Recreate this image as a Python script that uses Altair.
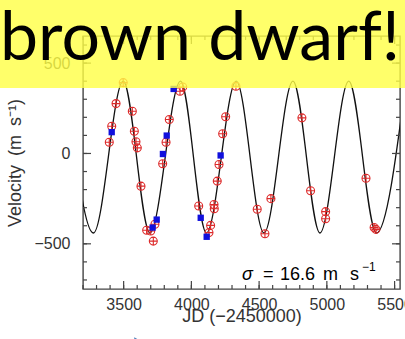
import altair as alt
import pandas as pd

# Radial-velocity measurements, JD - 2450000 (days) and velocity (m/s)
red_jd = [3497, 3444, 3412, 3394, 3564, 3579, 3591, 3601, 3628, 3670, 3700, 3731,
          3719, 3916, 3936, 3837, 3813, 3788, 4054, 4167, 4169, 4142, 4130, 4329,
          4253, 4231, 4204, 4191, 4486, 4543, 4587, 4816, 4880, 4991, 4991, 5289,
          5349, 5362]
red_rv = [392, 276, 151, 62, 234, 123, 65, 31, -181, -425, -429, -392,
          -485, 344, 368, 188, 62, -57, -291, -282, -306, -398, -438, 372,
          203, 109, -61, -153, -309, -444, -250, 197, -206, -322, -361, -137,
          -410, -420]

blue_jd = [3412, 3869, 3818, 3790, 3714, 3744, 4069, 4113, 4216]
blue_rv = [118, 357, 99, -3, -410, -366, -356, -461, -11]

# Turning points of the fitted orbit
fit_jd = [3077, 3277, 3497, 3694, 3920, 4111, 4331, 4536, 4750, 4949, 5162, 5366, 5584]
fit_rv = [400, -440, 400, -440, 400, -440, 400, -440, 400, -440, 400, -440, 400]

# Axis ticks
x_minor = list(range(3200, 5501, 100))
x_major = [3500, 4000, 4500, 5000, 5500]
y_minor = list(range(-700, 601, 100))
y_major = [-500, 0, 500]

W, H = 317, 253
FONT = "Liberation Sans"
INK = "#333333"
SP = "\u2002"

xs = alt.Scale(domain=[3200, 5540], nice=False, zero=False)
ys = alt.Scale(domain=[-750, 650], nice=False, zero=False)

AX = alt.Axis(values=x_major, format="d", ticks=False, tickSize=0, domain=False,
              grid=False, labelFont=FONT, labelFontSize=16, labelColor=INK,
              labelPadding=7, title="JD (\u22122450000)", titleFont=FONT,
              titleFontSize=18, titleFontWeight="normal", titleColor=INK,
              titleY=32, titleBaseline="alphabetic")
AY = alt.Axis(values=y_major, format="d", ticks=False, tickSize=0, domain=False,
              grid=False, labelFont=FONT, labelFontSize=16, labelColor=INK,
              labelPadding=13, title=f"Velocity{SP}(m{SP}s\u207b\u00b9)",
              titleFont=FONT, titleFontSize=18, titleFontWeight="normal",
              titleColor=INK, titleX=-68, titleY=H / 2, titleBaseline="middle",
              titleAlign="center", titleAngle=270)


def X():
    return alt.X("x:Q", scale=xs, axis=AX)


def Y():
    return alt.Y("y:Q", scale=ys, axis=AY)


fit = pd.DataFrame({"x": fit_jd, "y": fit_rv})
red = pd.DataFrame({"x": red_jd, "y": red_rv})
blue = pd.DataFrame({"x": blue_jd, "y": blue_rv})
one = pd.DataFrame({"k": [0]})

curve = alt.Chart(fit).mark_line(
    color="#111111", strokeWidth=1.3, interpolate="monotone", clip=True
).encode(x=X(), y=Y())

# circle with a cross through it
OPLUS = "M-1,0 A1,1 0 1,1 1,0 A1,1 0 1,1 -1,0 Z M-1,0 L1,0 M0,-1 L0,1"
red_pts = alt.Chart(red).mark_point(
    shape=OPLUS, filled=False, color="#dd2a2a", strokeWidth=1.1, size=64, opacity=1
).encode(x=X(), y=Y())

blue_pts = alt.Chart(blue).mark_square(
    color="#1010dd", size=40, opacity=1
).encode(x=X(), y=Y())


def xticks(vals, y0, y1):
    return alt.Chart(pd.DataFrame({"x": vals})).mark_rule(
        color="#444444", strokeWidth=1.2
    ).encode(x=X(), y=alt.value(y0), y2=alt.value(y1))


def yticks(vals, x0, x1):
    return alt.Chart(pd.DataFrame({"y": vals})).mark_rule(
        color="#444444", strokeWidth=1.2
    ).encode(y=Y(), x=alt.value(x0), x2=alt.value(x1))


ticks = [
    xticks(x_minor, H, H - 4), xticks(x_major, H, H - 8),
    xticks(x_minor, 0, 4), xticks(x_major, 0, 8),
    yticks(y_minor, 0, 4), yticks(y_major, 0, 8),
    yticks(y_minor, W, W - 4), yticks(y_major, W, W - 8),
]


def label(text, x, y, size=18, style="normal"):
    return alt.Chart(one).mark_text(
        text=text, font=FONT, fontSize=size, fontStyle=style, color="black",
        align="left", baseline="alphabetic"
    ).encode(x=alt.value(x), y=alt.value(y))


# rms of the residuals, written as  sigma = 16.6 m s^-1
sigma = [
    label("\u03c3", 159, 244, style="italic"),
    label("=", 180, 244),
    label("16.6", 197, 244),
    label("m", 240, 244),
    label("s", 267, 244),
    label("\u22121", 279, 235, size=12),
]

banner = alt.Chart(one).mark_rect(color="#ffff45", opacity=0.8).encode(
    x=alt.value(-83), x2=alt.value(330), y=alt.value(-40), y2=alt.value(52)
)

headline = alt.Chart(one).mark_text(
    text="brown dwarf!", font="Lato", fontSize=68, color="black",
    align="center", baseline="alphabetic"
).encode(x=alt.value(117), y=alt.value(24))

arrow = alt.Chart(one).mark_point(
    shape="triangle-up", filled=True, color="#4f81bd", size=160, angle=330, opacity=1
).encode(x=alt.value(54), y=alt.value(306))

chart = alt.layer(
    curve, *ticks, red_pts, blue_pts, *sigma, banner, headline, arrow
).properties(
    width=W, height=H,
    autosize=alt.AutoSizeParams(type="none"),
    padding={"left": 83, "top": 36, "right": 5, "bottom": 50},
    background="white",
).configure_view(stroke="#444444", strokeWidth=1.4)

chart.save("out.html", embed_options={"renderer": "svg", "actions": False})
